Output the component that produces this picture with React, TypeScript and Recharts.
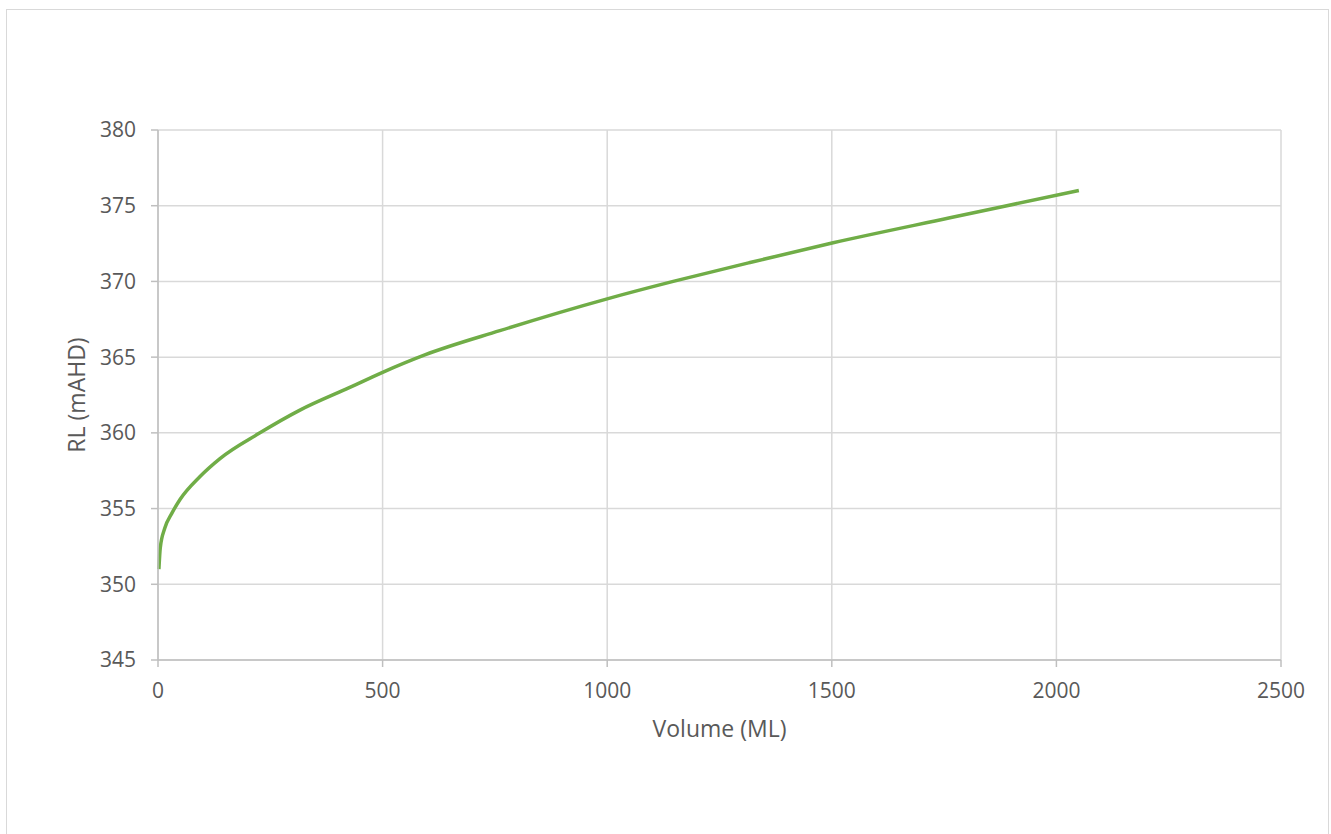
import React from 'react';
import { LineChart, Line, XAxis, YAxis, CartesianGrid } from 'recharts';

// storage curve
const volumes = [2, 5, 15, 31, 49, 93, 138, 227, 316, 427, 500, 594, 761, 1000, 1147, 1318, 1503, 1763, 1874, 2050];
const levels = [351, 352.4, 353.7, 354.7, 355.6, 357.1, 358.3, 360.0, 361.5, 363.0, 364.0, 365.15, 366.75, 368.85, 370.0, 371.25, 372.55, 374.2, 374.9, 376.0];

const xTicks = [0, 500, 1000, 1500, 2000, 2500];
const yTicks = [345, 350, 355, 360, 365, 370, 375, 380];

const data = volumes.map((v, i) => ({ volume: v, rl: levels[i] }));

const font = '"Open Sans", "DejaVu Sans", sans-serif';
const tickStyle = { fill: '#595959', fontSize: 21, fontFamily: font };

export default function App() {
  return (
    <div
      style={{
        position: 'absolute',
        left: 6,
        top: 9,
        width: 1321,
        height: 830,
        border: '1px solid #d9d9d9',
        background: '#fff',
      }}
    >
      <LineChart width={1321} height={820} data={data} margin={{ top: 120, right: 47, bottom: 80, left: 20 }}>
        <CartesianGrid stroke="#d9d9d9" strokeWidth={1.5} />
        <XAxis
          dataKey="volume"
          type="number"
          domain={[0, 2500]}
          ticks={xTicks}
          height={90}
          tickSize={7}
          tickMargin={16}
          stroke="#bfbfbf"
          strokeWidth={1.5}
          tick={tickStyle}
          label={{
            value: 'Volume (ML)',
            position: 'insideBottom',
            offset: 13,
            style: { fill: '#595959', fontSize: 23, fontFamily: font },
          }}
        />
        <YAxis
          type="number"
          domain={[345, 380]}
          ticks={yTicks}
          width={131}
          tickSize={7}
          tickMargin={15}
          stroke="#bfbfbf"
          strokeWidth={1.5}
          tick={tickStyle}
          label={{
            value: 'RL (mAHD)',
            angle: -90,
            position: 'insideLeft',
            offset: 50,
            style: { fill: '#595959', fontSize: 23, fontFamily: font, textAnchor: 'middle' },
          }}
        />
        <Line
          type="monotone"
          dataKey="rl"
          stroke="#70ad47"
          strokeWidth={3.5}
          dot={false}
          isAnimationActive={false}
        />
      </LineChart>
    </div>
  );
}
